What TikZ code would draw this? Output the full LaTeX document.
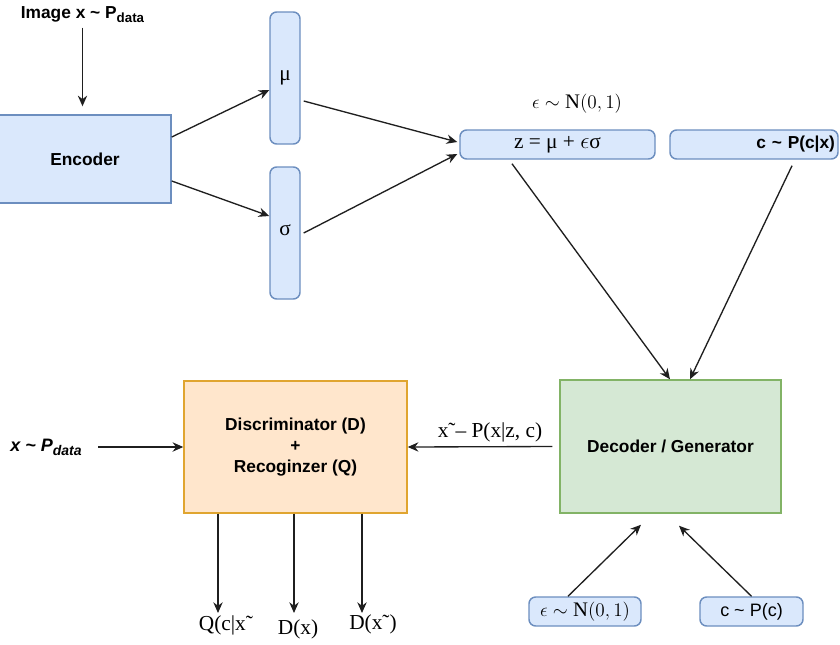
\documentclass[tikz,border=0pt]{standalone}
\usepackage{fontspec}
\setmainfont{Liberation Serif}
\setsansfont{Liberation Sans}
\usetikzlibrary{arrows.meta}
\definecolor{bfill}{HTML}{DAE8FC}
\definecolor{bline}{HTML}{6C8EBF}
\definecolor{gfill}{HTML}{D5E8D4}
\definecolor{gline}{HTML}{82B366}
\definecolor{ofill}{HTML}{FFE6CC}
\definecolor{oline}{HTML}{E0A530}
\def\u{0.75pt}
\tikzset{
  box/.style={draw, line width=1.1pt, inner sep=0pt, anchor=center},
  bluebox/.style={box, fill=bfill, draw=bline},
  rbox/.style={bluebox, rounded corners=5pt},
  greenbox/.style={box, fill=gfill, draw=gline},
  orangebox/.style={box, fill=ofill, draw=oline},
  sflab/.style={font=\sffamily\bfseries\fontsize{13}{15.5}\selectfont},
  serlab/.style={font=\rmfamily\fontsize{16}{18}\selectfont},
  mathlab/.style={font=\fontsize{15.5}{18}\selectfont},
  arr/.style={-{Stealth[length=8pt,width=7pt]}, line width=1pt, draw=black!88},
}
\begin{document}
\begin{tikzpicture}[x=0.75pt,y=-0.75pt]
\useasboundingbox (0,0) rectangle (840,644);
% boxes
\node[bluebox, sflab, minimum width=172*\u, minimum height=88*\u] (enc) at (85,159) {Encoder};
\node[rbox, serlab, minimum width=30*\u, minimum height=132*\u] (mu) at (285,78) {μ};
\node[rbox, serlab, minimum width=30*\u, minimum height=132*\u] (sig) at (285,233) {\raisebox{5pt}{σ}};
\node[rbox, serlab, minimum width=195*\u, minimum height=29*\u] (z) at (557.5,144.5) {z = μ + $\epsilon$σ};
\node[rbox, sflab, minimum width=168*\u, minimum height=29*\u, text width=162*\u, align=right] (cx) at (754,144.5) {c \textasciitilde{} P(c|x)};
\node[greenbox, sflab, minimum width=221*\u, minimum height=133*\u] (dec) at (670.5,446.5) {Decoder / Generator};
\node[orangebox, sflab, minimum width=223*\u, minimum height=132*\u, align=center] (disc) at (295.5,447) {Discriminator (D)\\+\\Recoginzer (Q)};
\node[rbox, mathlab, minimum width=112*\u, minimum height=29*\u] (eps) at (585,611.5) {$\epsilon\sim\mathrm{N}(0,1)$};
\node[rbox, font=\sffamily\fontsize{13.5}{15}\selectfont, minimum width=103*\u, minimum height=29*\u] (cp) at (751.5,611.5) {c \textasciitilde{} P(c)};
% text labels
\node[sflab] (img) at (82.5,15) {Image x \textasciitilde{} P\raisebox{-3pt}{\fontsize{10}{10}\selectfont data}};
\node[mathlab] (epslab) at (577,104) {$\epsilon\sim\mathrm{N}(0,1)$};
\node[font=\sffamily\bfseries\itshape\fontsize{13.5}{15.5}\selectfont] (xdata) at (46,447) {x \textasciitilde{} P\raisebox{-3pt}{\fontsize{10.5}{10}\selectfont data}};
\node[serlab] (xlab) at (490,432) {x˜– P(x|z, c)};
\node[serlab] (q) at (226,625) {Q(c|x˜};
\node[serlab] (d1) at (298,629) {D(x)};
\node[serlab] (d2) at (373,624) {D(x˜)};
% free ends
\coordinate (qe) at (218,613);
\coordinate (d1e) at (294,613);
\coordinate (d2e) at (362,613);
% connectors
\draw[arr] (img.south) -- ([yshift=8*\u]img.south |- enc.north);
\draw[arr] ([yshift=22*\u]enc.east) -- ([yshift=-12*\u]mu.west);
\draw[arr] ([yshift=-22*\u]enc.east) -- ([yshift=17*\u]sig.west);
\draw[arr] ([xshift=3*\u,yshift=-23*\u]mu.east) -- ([xshift=-2*\u,yshift=2.5*\u]z.west);
\draw[arr] ([xshift=3*\u]sig.east) -- ([xshift=-2*\u,yshift=-9.5*\u]z.west);
\draw[arr] ([xshift=-45.5*\u,yshift=-4*\u]z.south) -- ([xshift=-0.5*\u]dec.north);
\draw[arr] ([xshift=38*\u,yshift=-6*\u]cx.south) -- ([xshift=19.5*\u]dec.north);
\draw[arr] ([xshift=-17*\u]eps.north) -- ([xshift=-29.5*\u,yshift=-11*\u]dec.south);
\draw[arr] (cp.north) -- ([xshift=8.5*\u,yshift=-12*\u]dec.south);
\draw[arr] ([xshift=12*\u]xdata.east) -- (disc.west);
\draw[arr] ([xshift=-7*\u]dec.west) -- (disc.east);
\draw[arr] (disc.south -| qe) -- (qe);
\draw[arr] (disc.south -| d1e) -- (d1e);
\draw[arr] (disc.south -| d2e) -- (d2e);
\end{tikzpicture}
\end{document}
